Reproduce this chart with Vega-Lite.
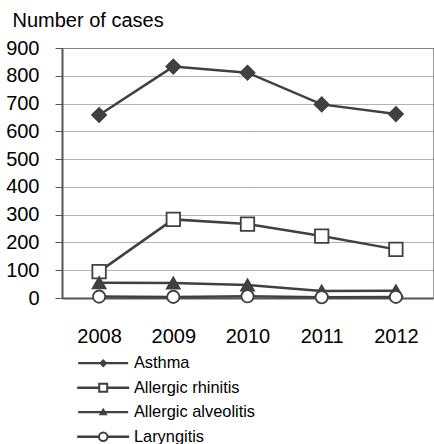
{
  "$schema": "https://vega.github.io/schema/vega-lite/v6.json",
  "autosize": "none",
  "width": 371,
  "height": 250,
  "padding": {"left": 62, "top": 48, "right": 1, "bottom": 146},
  "background": "white",
  "config": {
    "view": {"stroke": "#999", "strokeWidth": 1},
    "font": "Liberation Sans",
    "legend": {"title": null, "orient": "none", "symbolSize": 100, "labelFontSize": 16.4, "labelFont": "Liberation Sans", "labelColor": "#000", "labelOffset": 22.5, "symbolOpacity": 1, "symbolStrokeColor": "#404040", "symbolStrokeWidth": 2}
  },
  "data": {"values": [
    {"year": "2008", "series": "Asthma", "value": 659},
    {"year": "2009", "series": "Asthma", "value": 833},
    {"year": "2010", "series": "Asthma", "value": 811},
    {"year": "2011", "series": "Asthma", "value": 697},
    {"year": "2012", "series": "Asthma", "value": 662},
    {"year": "2008", "series": "Allergic rhinitis", "value": 95},
    {"year": "2009", "series": "Allergic rhinitis", "value": 283},
    {"year": "2010", "series": "Allergic rhinitis", "value": 266},
    {"year": "2011", "series": "Allergic rhinitis", "value": 223},
    {"year": "2012", "series": "Allergic rhinitis", "value": 175},
    {"year": "2008", "series": "Allergic alveolitis", "value": 55},
    {"year": "2009", "series": "Allergic alveolitis", "value": 54},
    {"year": "2010", "series": "Allergic alveolitis", "value": 47},
    {"year": "2011", "series": "Allergic alveolitis", "value": 25},
    {"year": "2012", "series": "Allergic alveolitis", "value": 26},
    {"year": "2008", "series": "Laryngitis", "value": 5},
    {"year": "2009", "series": "Laryngitis", "value": 4},
    {"year": "2010", "series": "Laryngitis", "value": 6},
    {"year": "2011", "series": "Laryngitis", "value": 3},
    {"year": "2012", "series": "Laryngitis", "value": 4}
  ]},
  "encoding": {
    "x": {"field": "year", "type": "ordinal", "scale": {"type": "point", "padding": 0.5},
      "axis": {"title": null, "labelAngle": 0, "ticks": false, "domain": true, "domainColor": "#555", "domainWidth": 2, "labelPadding": 28, "labelFontSize": 20, "labelColor": "#000", "labelFont": "Liberation Sans", "grid": false}},
    "y": {"field": "value", "type": "quantitative", "scale": {"domain": [0, 900], "nice": false},
      "axis": {"title": "Number of cases", "titleAngle": 0, "titleAlign": "left", "titleBaseline": "alphabetic", "titleX": -50, "titleY": -21.3, "titleFontSize": 20, "titleFontWeight": "normal", "titleColor": "#000", "titleFont": "Liberation Sans",
        "values": [0,100,200,300,400,500,600,700,800,900], "domain": true, "domainColor": "#555", "domainWidth": 2, "ticks": true, "tickSize": 7, "tickColor": "#555", "tickWidth": 1, "labelPadding": 16, "labelFontSize": 20, "labelColor": "#000", "labelFont": "Liberation Sans", "grid": true, "gridColor": "#666", "gridDash": [1, 1], "gridWidth": 1}}
  },
  "layer": [
    {
      "mark": {"type": "line", "color": "#404040", "strokeWidth": 2.5},
      "encoding": {"detail": {"field": "series"}}
    },
    {
      "mark": {"type": "point", "filled": false, "opacity": 1, "stroke": "#404040", "strokeWidth": 1.8},
      "encoding": {
        "shape": {"field": "series", "type": "nominal", "scale": {"domain": ["Asthma", "Allergic rhinitis", "Allergic alveolitis", "Laryngitis"], "range": ["diamond", "square", "triangle-up", "circle"]}, "legend": null},
        "fill": {"field": "series", "type": "nominal", "scale": {"domain": ["Asthma", "Allergic rhinitis", "Allergic alveolitis", "Laryngitis"], "range": ["#404040", "#ffffff", "#404040", "#ffffff"]}, "legend": null},
        "size": {"field": "series", "type": "nominal", "scale": {"domain": ["Asthma", "Allergic rhinitis", "Allergic alveolitis", "Laryngitis"], "range": [196, 150, 160, 170]}, "legend": null}
      }
    },
    {
      "transform": [{"filter": {"field": "series", "equal": "Asthma"}}],
      "mark": {"type": "point", "opacity": 0, "filled": true, "color": "#404040"},
      "encoding": {
        "shape": {"field": "series", "type": "nominal",
          "scale": {"domain": ["Asthma"], "range": ["M-5,-0.22H5V0.22H-5ZM-0.85,0L0,-0.85L0.85,0L0,0.85Z"]},
          "legend": {"legendX": 33, "legendY": 307, "symbolFillColor": "#404040"}
        }
      }
    },
    {
      "transform": [{"filter": {"field": "series", "equal": "Allergic rhinitis"}}],
      "mark": {"type": "point", "opacity": 0, "filled": false, "color": "#404040"},
      "encoding": {
        "shape": {"field": "series", "type": "nominal",
          "scale": {"domain": ["Allergic rhinitis"], "range": ["M-5,-0.04H-0.8V0.04H-5ZM0.8,-0.04H5V0.04H0.8ZM-0.8,-0.8H0.8V0.8H-0.8Z"]},
          "legend": {"legendX": 33, "legendY": 331.5, "symbolFillColor": "#ffffff"}
        }
      }
    },
    {
      "transform": [{"filter": {"field": "series", "equal": "Allergic alveolitis"}}],
      "mark": {"type": "point", "opacity": 0, "filled": true, "color": "#404040"},
      "encoding": {
        "shape": {"field": "series", "type": "nominal",
          "scale": {"domain": ["Allergic alveolitis"], "range": ["M-5,-0.22H5V0.22H-5ZM-0.9,0.6L0,-0.9L0.9,0.6Z"]},
          "legend": {"legendX": 33, "legendY": 356, "symbolFillColor": "#404040"}
        }
      }
    },
    {
      "transform": [{"filter": {"field": "series", "equal": "Laryngitis"}}],
      "mark": {"type": "point", "opacity": 0, "filled": false, "color": "#404040"},
      "encoding": {
        "shape": {"field": "series", "type": "nominal",
          "scale": {"domain": ["Laryngitis"], "range": ["M-5,-0.04H-0.85V0.04H-5ZM0.85,-0.04H5V0.04H0.85ZM-0.85,0A0.85,0.85,0,1,1,0.85,0A0.85,0.85,0,1,1,-0.85,0Z"]},
          "legend": {"legendX": 33, "legendY": 380.5, "symbolFillColor": "#ffffff"}
        }
      }
    }
  ],
  "resolve": {"scale": {"shape": "independent"}, "legend": {"shape": "independent"}}
}
